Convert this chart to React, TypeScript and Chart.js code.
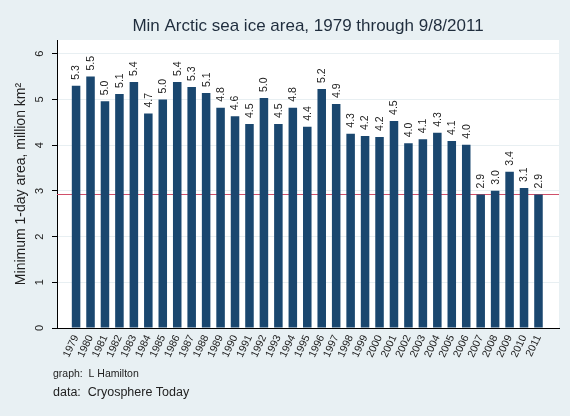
import { useEffect, useRef } from "react";
import { Chart, registerables } from "chart.js";

Chart.register(...registerables);

// minimum 1-day sea ice area, million km2
const years = [
  1979, 1980, 1981, 1982, 1983, 1984, 1985, 1986, 1987, 1988, 1989, 1990,
  1991, 1992, 1993, 1994, 1995, 1996, 1997, 1998, 1999, 2000, 2001, 2002,
  2003, 2004, 2005, 2006, 2007, 2008, 2009, 2010, 2011,
];
const areas = [
  5.3, 5.5, 4.96, 5.12, 5.38, 4.69, 5.0, 5.38, 5.27, 5.14, 4.82, 4.63,
  4.46, 5.03, 4.46, 4.82, 4.4, 5.23, 4.9, 4.25, 4.2, 4.18, 4.53, 4.04,
  4.13, 4.27, 4.09, 4.01, 2.92, 3.0, 3.42, 3.06, 2.92,
];
const yTicks = [0, 1, 2, 3, 4, 5, 6];
const refLevel = 2.92; // 2011 minimum
const notes = ["graph:  L Hamilton", "data:  Cryosphere Today"];

const FONT = '"Liberation Sans", Arial, sans-serif';
const NAVY = "#1a476f";

// white plot region on the grey-blue page
const plotBg = {
  id: "plotBg",
  beforeDraw(chart: any) {
    const { ctx, chartArea } = chart;
    ctx.save();
    ctx.fillStyle = "#ffffff";
    ctx.fillRect(
      chartArea.left,
      chartArea.top,
      chartArea.right - chartArea.left,
      chartArea.bottom - chartArea.top
    );
    ctx.restore();
  },
};

const refLine = {
  id: "refLine",
  beforeDatasetsDraw(chart: any) {
    const { ctx, chartArea } = chart;
    const y = chart.scales.y.getPixelForValue(refLevel);
    ctx.save();
    ctx.strokeStyle = "#d0506a";
    ctx.lineWidth = 1;
    ctx.beginPath();
    ctx.moveTo(chartArea.left, y);
    ctx.lineTo(chartArea.right, y);
    ctx.stroke();
    ctx.restore();
  },
};

const barLabels = {
  id: "barLabels",
  afterDatasetsDraw(chart: any) {
    const { ctx } = chart;
    const meta = chart.getDatasetMeta(0);
    ctx.save();
    ctx.font = `10.5px ${FONT}`;
    ctx.fillStyle = "#222";
    ctx.textAlign = "left";
    ctx.textBaseline = "middle";
    meta.data.forEach((bar: any, i: number) => {
      ctx.save();
      ctx.translate(bar.x + 0.5, bar.y - 6);
      ctx.rotate(-Math.PI / 2);
      ctx.fillText(areas[i].toFixed(1), 0, 0);
      ctx.restore();
    });
    ctx.restore();
  },
};

const footNotes = {
  id: "footNotes",
  afterDraw(chart: any) {
    const { ctx } = chart;
    ctx.save();
    ctx.fillStyle = "#222";
    ctx.textAlign = "left";
    ctx.textBaseline = "middle";
    ctx.font = `10.5px ${FONT}`;
    ctx.fillText(notes[0], 53, 374);
    ctx.font = `12.5px ${FONT}`;
    ctx.fillText(notes[1], 53, 393);
    ctx.restore();
  },
};

const App = () => {
  const canvasRef = useRef<HTMLCanvasElement | null>(null);

  useEffect(() => {
    if (!canvasRef.current) return;

    const chart = new Chart(canvasRef.current, {
      type: "bar",
      data: {
        datasets: [
          {
            data: years.map((y, i) => ({ x: y, y: areas[i] })),
            backgroundColor: NAVY,
            borderWidth: 0,
            categoryPercentage: 1,
            barPercentage: 0.59,
          },
        ],
      },
      options: {
        animation: false,
        responsive: true,
        maintainAspectRatio: false,
        layout: { padding: { left: 0, right: 11, top: 0, bottom: 58 } },
        plugins: {
          legend: { display: false },
          tooltip: { enabled: false },
          title: {
            display: true,
            text: "Min Arctic sea ice area, 1979 through 9/8/2011",
            fullSize: false,
            color: "#1f2d3d",
            font: { family: FONT, size: 17, weight: "normal" },
            padding: { top: 16, bottom: 3.6 },
          },
        },
        scales: {
          x: {
            type: "linear",
            min: 1977.68,
            max: 2012.42,
            offset: false,
            afterBuildTicks: (axis: any) => {
              axis.ticks = years.map((v) => ({ value: v }));
            },
            afterFit: (scale: any) => {
              scale.height = 30;
            },
            grid: { display: false, drawTicks: false, offset: false },
            border: { display: true, color: "#000", width: 1 },
            ticks: {
              autoSkip: false,
              minRotation: 65,
              maxRotation: 65,
              padding: 5,
              color: "#222",
              font: { family: FONT, size: 10.5 },
              callback: (v: any) => String(v),
            },
          },
          y: {
            min: 0,
            max: 6.3,
            afterBuildTicks: (axis: any) => {
              axis.ticks = yTicks.map((v) => ({ value: v }));
            },
            afterFit: (scale: any) => {
              scale.width = 57;
            },
            grid: {
              color: "#e8eff2",
              tickColor: "#000",
              tickLength: 5,
            },
            border: { display: true, color: "#000", width: 1 },
            ticks: {
              minRotation: 90,
              maxRotation: 90,
              crossAlign: "center",
              padding: 9,
              color: "#222",
              font: { family: FONT, size: 11 },
            },
            title: {
              display: true,
              text: "Minimum 1-day area, million km²",
              color: "#222",
              font: { family: FONT, size: 14 },
              padding: { top: 12.6, bottom: 0 },
            },
          },
        },
      },
      plugins: [plotBg, refLine, barLabels, footNotes],
    });

    return () => {
      chart.destroy();
    };
  }, []);

  return (
    <div
      style={{
        position: "fixed",
        left: 0,
        top: 0,
        width: 570,
        height: 416,
        background: "#e8f0f3",
      }}
    >
      <canvas ref={canvasRef} />
    </div>
  );
};

export default App;
